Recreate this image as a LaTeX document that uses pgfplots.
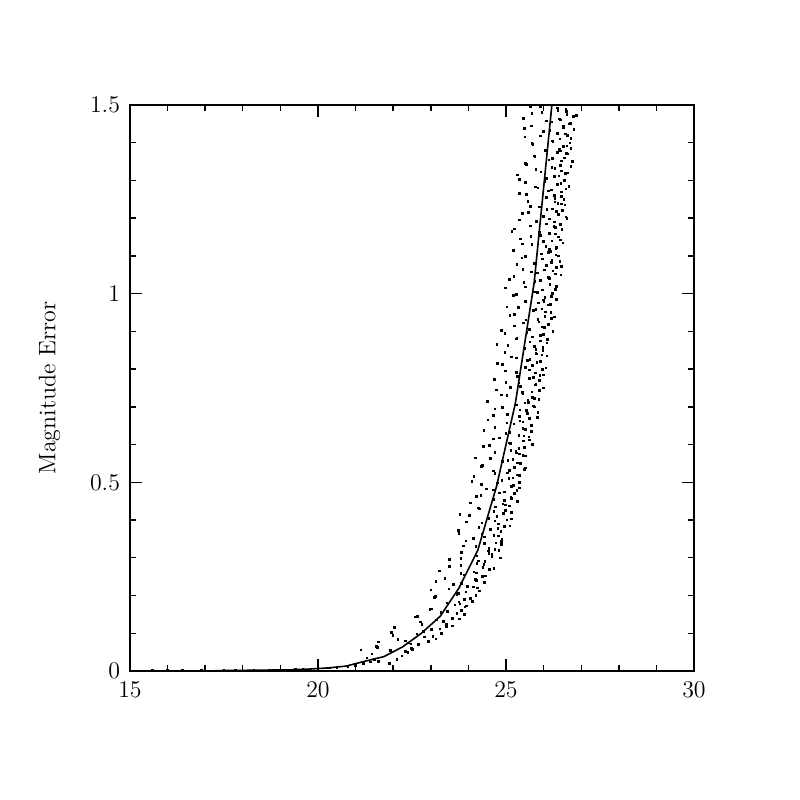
\documentclass[border=0pt]{standalone}
\usepackage{pgfplots}
\pgfplotsset{compat=1.18}
\begin{document}
\begin{tikzpicture}
\begin{axis}[
  scale only axis, width=282bp, height=283bp,
  xmin=15, xmax=30, ymin=0, ymax=1.5,
  xtick={15,20,25,30}, ytick={0,0.5,1,1.5},
  minor xtick={16,17,18,19,21,22,23,24,26,27,28,29},
  minor ytick={0.1,0.2,0.3,0.4,0.6,0.7,0.8,0.9,1.1,1.2,1.3,1.4},
  tick align=inside, xtick pos=both, ytick pos=both,
  major tick length=6bp, minor tick length=3bp,
  axis line style={line width=1bp},
  every tick/.style={black, line width=0.7bp},
  tick label style={font=\large},
  xticklabel style={yshift=-2bp},
  yticklabel style={xshift=-1.5bp},
  ylabel={Magnitude Error},
  label style={font=\large},
  ylabel style={yshift=8bp},
  clip=true,
]
% scatter points
\addplot[only marks, mark=square*, mark size=0.4bp, draw=black, fill=black] coordinates {
(15.6,0.001)(16.0,0.001)(16.4,0.002)(16.9,0.001)(17.5,0.002)(17.8,0.002)(18.3,0.002)(18.7,0.003)
(19.0,0.003)(19.4,0.004)(19.6,0.005)(20.0,0.006)(20.3,0.008)(20.5,0.009)(20.8,0.011)(21.0,0.015)
(21.2,0.02)(21.4,0.024)(21.5,0.03)(21.6,0.026)(21.14,0.056)(21.6,0.077)(21.3,0.035)(21.9,0.02)(22.1,0.03)
(22.23,0.040)(21.43,0.045)(22.39,0.050)(21.93,0.055)
(22.49,0.060)(21.56,0.065)(22.67,0.070)(22.40,0.075)
(22.32,0.080)(23.14,0.085)(22.83,0.090)(21.99,0.095)
(23.28,0.100)(22.80,0.105)(23.02,0.110)(22.03,0.115)
(23.58,0.120)(23.41,0.125)(22.72,0.130)(23.15,0.135)
(23.58,0.140)(22.64,0.145)(23.89,0.150)(23.27,0.155)
(23.82,0.160)(23.02,0.165)(23.91,0.170)(23.64,0.175)
(23.43,0.180)(24.11,0.185)(23.90,0.190)(23.10,0.195)
(24.20,0.200)(23.74,0.205)(23.93,0.210)(23.00,0.215)
(24.24,0.220)(23.97,0.225)(23.60,0.230)(24.42,0.235)
(24.21,0.240)(23.37,0.245)(24.38,0.250)(23.90,0.255)
(24.22,0.260)(23.23,0.265)(24.56,0.270)(24.39,0.275)
(23.80,0.280)(24.23,0.285)(24.44,0.290)(23.50,0.295)
(24.85,0.300)(24.23,0.305)(24.62,0.310)(23.82,0.315)
(24.81,0.320)(24.54,0.325)(24.20,0.330)(24.88,0.335)
(24.73,0.340)(23.93,0.345)(24.89,0.350)(24.43,0.355)
(24.68,0.360)(23.75,0.365)(24.86,0.370)(24.59,0.375)
(24.28,0.380)(25.10,0.385)(24.79,0.390)(23.95,0.395)
(25.02,0.400)(24.54,0.405)(24.76,0.410)(23.77,0.415)
(25.15,0.420)(24.98,0.425)(24.29,0.430)(24.72,0.435)
(24.99,0.440)(24.05,0.445)(25.30,0.450)(24.68,0.455)
(25.13,0.460)(24.33,0.465)(25.22,0.470)(24.95,0.475)
(24.67,0.480)(25.35,0.485)(25.14,0.490)(24.34,0.495)
(25.35,0.500)(24.89,0.505)(25.08,0.510)(24.15,0.515)
(25.31,0.520)(25.04,0.525)(24.67,0.530)(25.49,0.535)
(25.22,0.540)(24.38,0.545)(25.39,0.550)(24.91,0.555)
(25.18,0.560)(24.19,0.565)(25.52,0.570)(25.35,0.575)
(24.70,0.580)(25.13,0.585)(25.34,0.590)(24.40,0.595)
(25.70,0.600)(25.08,0.605)(25.47,0.610)(24.67,0.615)
(25.61,0.620)(25.34,0.625)(25.00,0.630)(25.68,0.635)
(25.51,0.640)(24.71,0.645)(25.67,0.650)(25.21,0.655)
(25.45,0.660)(24.52,0.665)(25.63,0.670)(25.36,0.675)
(25.03,0.680)(25.85,0.685)(25.54,0.690)(24.70,0.695)
(25.76,0.700)(25.28,0.705)(25.50,0.710)(24.51,0.715)
(25.88,0.720)(25.71,0.725)(25.02,0.730)(25.45,0.735)
(25.69,0.740)(24.75,0.745)(26.00,0.750)(25.38,0.755)
(25.80,0.760)(25.00,0.765)(25.89,0.770)(25.62,0.775)
(25.31,0.780)(25.99,0.785)(25.78,0.790)(24.98,0.795)
(25.97,0.800)(25.51,0.805)(25.70,0.810)(24.77,0.815)
(25.91,0.820)(25.64,0.825)(25.27,0.830)(26.09,0.835)
(25.81,0.840)(24.97,0.845)(25.98,0.850)(25.50,0.855)
(25.75,0.860)(24.76,0.865)(26.09,0.870)(25.92,0.875)
(25.27,0.880)(25.70,0.885)(25.91,0.890)(24.97,0.895)
(26.25,0.900)(25.63,0.905)(26.02,0.910)(25.22,0.915)
(26.14,0.920)(25.87,0.925)(25.53,0.930)(26.21,0.935)
(26.03,0.940)(25.23,0.945)(26.19,0.950)(25.73,0.955)
(25.95,0.960)(25.02,0.965)(26.13,0.970)(25.86,0.975)
(25.52,0.980)(26.34,0.985)(26.03,0.990)(25.19,0.995)
(26.23,1.000)(25.75,1.005)(25.97,1.010)(24.98,1.015)
(26.34,1.020)(26.17,1.025)(25.48,1.030)(25.91,1.035)
(26.15,1.040)(25.21,1.045)(26.46,1.050)(25.84,1.055)
(26.25,1.060)(25.45,1.065)(26.34,1.070)(26.07,1.075)
(25.75,1.080)(26.43,1.085)(26.22,1.090)(25.42,1.095)
(26.40,1.100)(25.94,1.105)(26.13,1.110)(25.20,1.115)
(26.33,1.120)(26.06,1.125)(25.69,1.130)(26.51,1.135)
(26.22,1.140)(25.38,1.145)(26.39,1.150)(25.91,1.155)
(26.15,1.160)(25.16,1.165)(26.49,1.170)(26.32,1.175)
(25.65,1.180)(26.08,1.185)(26.29,1.190)(25.35,1.195)
(26.62,1.200)(26.00,1.205)(26.39,1.210)(25.59,1.215)
(26.50,1.220)(26.23,1.225)(25.89,1.230)(26.57,1.235)
(26.38,1.240)(25.58,1.245)(26.54,1.250)(26.08,1.255)
(26.29,1.260)(25.36,1.265)(26.47,1.270)(26.20,1.275)
(25.85,1.280)(26.67,1.285)(26.36,1.290)(25.52,1.295)
(26.55,1.300)(26.07,1.305)(26.29,1.310)(25.30,1.315)
(26.65,1.320)(26.48,1.325)(25.79,1.330)(26.22,1.335)
(26.45,1.340)(25.51,1.345)(26.76,1.350)(26.14,1.355)
(26.55,1.360)(25.75,1.365)(26.64,1.370)(26.37,1.375)
(26.05,1.380)(26.73,1.385)(26.52,1.390)(25.72,1.395)
(26.70,1.400)(26.24,1.405)(26.43,1.410)(25.50,1.415)
(26.63,1.420)(26.36,1.425)(25.99,1.430)(26.81,1.435)
(26.52,1.440)(25.68,1.445)(26.69,1.450)(26.21,1.455)
(26.45,1.460)(25.46,1.465)(26.79,1.470)(26.62,1.475)
(25.95,1.480)(26.38,1.485)(26.59,1.490)(25.65,1.495)
};
\addplot[only marks, mark=square*, mark size=0.4bp, draw=black, fill=black] coordinates {
(22.33,0.052)(22.51,0.058)(21.58,0.063)
(22.47,0.072)(22.93,0.078)(22.12,0.083)
(23.06,0.092)(22.63,0.098)(21.95,0.103)
(23.24,0.112)(23.41,0.118)(22.76,0.123)
(23.33,0.132)(23.76,0.138)(22.58,0.143)
(23.69,0.152)(23.44,0.158)(22.98,0.163)
(23.94,0.172)(23.77,0.178)(23.75,0.183)
(24.06,0.192)(23.13,0.198)(23.69,0.203)
(24.29,0.212)(23.48,0.218)(24.14,0.223)
(23.82,0.232)(23.14,0.238)(24.18,0.243)
(24.45,0.252)(23.80,0.258)(24.15,0.263)
(24.68,0.272)(23.50,0.278)(24.41,0.283)
(24.26,0.292)(23.80,0.298)(24.62,0.303)
(24.55,0.312)(24.53,0.318)(24.71,0.323)
(23.86,0.332)(24.42,0.338)(24.88,0.343)
(24.13,0.352)(24.79,0.358)(24.36,0.363)
(23.74,0.372)(24.78,0.378)(24.95,0.383)
(24.36,0.392)(24.71,0.398)(25.14,0.403)
(24.02,0.412)(24.93,0.418)(24.68,0.423)
(24.27,0.432)(25.09,0.438)(24.92,0.443)
(24.96,0.452)(25.14,0.458)(24.21,0.463)
(24.83,0.472)(25.29,0.478)(24.48,0.483)
(25.20,0.492)(24.77,0.498)(24.09,0.503)
(25.18,0.512)(25.35,0.518)(24.70,0.523)
(25.09,0.532)(25.52,0.538)(24.34,0.543)
(25.30,0.552)(25.05,0.558)(24.59,0.563)
(25.45,0.572)(25.28,0.578)(25.26,0.583)
(25.49,0.592)(24.56,0.598)(25.12,0.603)
(25.63,0.612)(24.82,0.618)(25.48,0.623)
(25.09,0.632)(24.41,0.638)(25.45,0.643)
(25.67,0.652)(25.02,0.658)(25.37,0.663)
(25.84,0.672)(24.66,0.678)(25.57,0.683)
(25.37,0.692)(24.91,0.698)(25.73,0.703)
(25.60,0.712)(25.58,0.718)(25.76,0.723)
(24.87,0.732)(25.43,0.738)(25.89,0.743)
(25.11,0.752)(25.77,0.758)(25.34,0.763)
(24.69,0.772)(25.73,0.778)(25.90,0.783)
(25.28,0.792)(25.63,0.798)(26.06,0.803)
(24.91,0.812)(25.82,0.818)(25.57,0.823)
(25.14,0.832)(25.96,0.838)(25.79,0.843)
(25.80,0.852)(25.98,0.858)(25.05,0.863)
(25.64,0.872)(26.10,0.878)(25.29,0.883)
(25.99,0.892)(25.56,0.898)(24.88,0.903)
(25.95,0.912)(26.12,0.918)(25.47,0.923)
(25.85,0.932)(26.28,0.938)(25.10,0.943)
(26.04,0.952)(25.79,0.958)(25.33,0.963)
(26.18,0.972)(26.01,0.978)(25.99,0.983)
(26.20,0.992)(25.27,0.998)(25.83,1.003)
(26.32,1.012)(25.51,1.018)(26.17,1.023)
(25.77,1.032)(25.09,1.038)(26.13,1.043)
(26.32,1.052)(25.67,1.058)(26.02,1.063)
(26.47,1.072)(25.29,1.078)(26.20,1.083)
(25.97,1.092)(25.51,1.098)(26.33,1.103)
(26.18,1.112)(26.16,1.118)(26.34,1.123)
(25.43,1.132)(25.99,1.138)(26.45,1.143)
(25.66,1.152)(26.32,1.158)(25.89,1.163)
(25.23,1.172)(26.27,1.178)(26.44,1.183)
(25.81,1.192)(26.16,1.198)(26.59,1.203)
(25.43,1.212)(26.34,1.218)(26.09,1.223)
(25.65,1.232)(26.47,1.238)(26.30,1.243)
(26.30,1.252)(26.48,1.258)(25.55,1.263)
(26.13,1.272)(26.59,1.278)(25.78,1.283)
(26.46,1.292)(26.03,1.298)(25.35,1.303)
(26.41,1.312)(26.58,1.318)(25.93,1.323)
(26.30,1.332)(26.73,1.338)(25.55,1.343)
(26.48,1.352)(26.23,1.358)(25.77,1.363)
(26.61,1.372)(26.44,1.378)(26.42,1.383)
(26.62,1.392)(25.69,1.398)(26.25,1.403)
(26.73,1.412)(25.92,1.418)(26.58,1.423)
(26.17,1.432)(25.49,1.438)(26.53,1.443)
(26.72,1.452)(26.07,1.458)(26.42,1.463)
(26.87,1.472)(25.69,1.478)(26.60,1.483)
(26.37,1.492)(25.91,1.497)
};
% mean error curve
\addplot[black, line width=0.8bp, mark=none] coordinates {
(17.25,0.001)(17.75,0.0015)(18.25,0.002)(18.75,0.0025)(19.25,0.003)(19.75,0.005)
(20.25,0.008)(20.75,0.013)(21.25,0.026)(21.75,0.038)(22.25,0.064)(22.75,0.10)
(23.25,0.145)(23.75,0.22)(24.25,0.32)(24.75,0.49)(25.25,0.71)(25.75,1.03)(26.25,1.53)
};
\end{axis}
\path[use as bounding box] (-65bp,-64.5bp) rectangle (335bp,335.5bp);
\end{tikzpicture}
\end{document}
